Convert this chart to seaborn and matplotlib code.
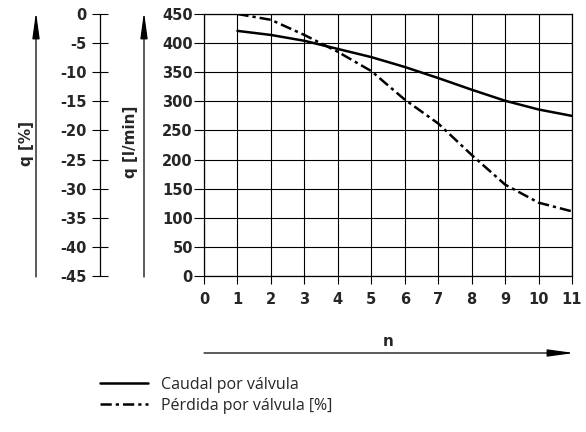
import matplotlib
matplotlib.use("Agg")
import matplotlib.pyplot as plt
from matplotlib.patches import FancyArrowPatch
import seaborn as sns
import pandas as pd

# Number of valves and the two characteristic curves
n_valves = [1, 2, 3, 4, 5, 6, 7, 8, 9, 10, 11]
caudal = [421, 414, 404, 390, 376, 359, 340, 320, 301, 286, 275]
perdida = [450, 440, 414, 385, 352, 303, 262, 208, 157, 126, 111]

label_caudal = "Caudal por válvula"
label_perdida = "Pérdida por válvula [%]"

x_ticks = list(range(0, 12))
q_ticks = list(range(0, 451, 50))
pct_ticks = list(range(0, -46, -5))

sns.set_theme(style="white")
plt.rcParams["font.family"] = ["DejaVu Sans"]

W, H = 586, 432
fig = plt.figure(figsize=(W / 100, H / 100), dpi=100)

def fx(px):
    return px / W

def fy(py):
    return 1 - py / H

# main chart
x0, x1, ytop, ybot = 204, 572, 14, 276
ax = fig.add_axes([fx(x0), fy(ybot), fx(x1 - x0), (ybot - ytop) / H])

df = pd.DataFrame({
    "n": n_valves * 2,
    "q": caudal + perdida,
    "serie": [label_caudal] * len(n_valves) + [label_perdida] * len(n_valves),
})
sns.lineplot(data=df[df.serie == label_caudal], x="n", y="q", ax=ax,
             color="black", lw=1.8, label=label_caudal, legend=False)
sns.lineplot(data=df[df.serie == label_perdida], x="n", y="q", ax=ax,
             color="black", lw=1.8, label=label_perdida, legend=False,
             dashes=False)
ax.lines[1].set_dashes([4.5, 1.6, 1.3, 1.6])

ax.set_xlim(0, 11)
ax.set_ylim(0, 450)
ax.set_xticks(x_ticks)
ax.set_yticks(q_ticks)
ax.set_xticklabels([str(t) for t in x_ticks], fontsize=10.5, fontweight="bold")
ax.set_yticklabels([str(t) for t in q_ticks], fontsize=10.5, fontweight="bold")
ax.set_xlabel("")
ax.set_ylabel("")
ax.grid(True, color="black", lw=0.8)
for s in ax.spines.values():
    s.set_color("black")
    s.set_linewidth(0.9)
ax.tick_params(axis="x", bottom=True, direction="out", length=5.5, width=0.8,
               color="black", pad=6)
ax.tick_params(axis="y", left=True, direction="out", length=7, width=0.8,
               color="black", pad=1)

# secondary percentage scale
axp = fig.add_axes([fx(100), fy(ybot), 0.0001, (ybot - ytop) / H])
axp.set_ylim(-45, 0)
axp.set_yticks(pct_ticks)
axp.set_yticklabels([str(t) for t in pct_ticks], fontsize=10.5, fontweight="bold")
axp.set_xticks([])
axp.patch.set_visible(False)
for k in ["top", "right", "bottom"]:
    axp.spines[k].set_visible(False)
axp.spines["left"].set_color("black")
axp.spines["left"].set_linewidth(0.9)
axp.tick_params(axis="y", left=True, direction="inout", length=11, width=0.8,
                color="black", pad=4)

# arrows and axis names
arrow = dict(arrowstyle="-|>,head_length=1.6,head_width=0.22", color="black", lw=0.9,
             shrinkA=0, shrinkB=0, mutation_scale=10, transform=fig.transFigure)
fig.add_artist(FancyArrowPatch((fx(36), fy(277)), (fx(36), fy(12)), **arrow))
fig.add_artist(FancyArrowPatch((fx(144), fy(277)), (fx(144), fy(12)), **arrow))
fig.add_artist(FancyArrowPatch((fx(204), fy(353)), (fx(574), fy(353)), **arrow))
fig.text(fx(27), fy(143), "q [%]", rotation=90, ha="center", va="center",
         fontsize=11, fontweight="bold")
fig.text(fx(130), fy(142), "q [l/min]", rotation=90, ha="center", va="center",
         fontsize=11, fontweight="bold")
fig.text(fx(388), fy(342), "n", ha="center", va="center", fontsize=11, fontweight="bold")

handles = ax.lines[:2]
fig.legend(handles, [label_caudal, label_perdida], loc="upper left",
           bbox_to_anchor=(fx(100), fy(377)), frameon=False, borderpad=0,
           borderaxespad=0, handlelength=3.0, handletextpad=0.85, labelspacing=0.3,
           prop={"family": "Open Sans", "size": 11.5})

fig.savefig("out.png", dpi=100)
